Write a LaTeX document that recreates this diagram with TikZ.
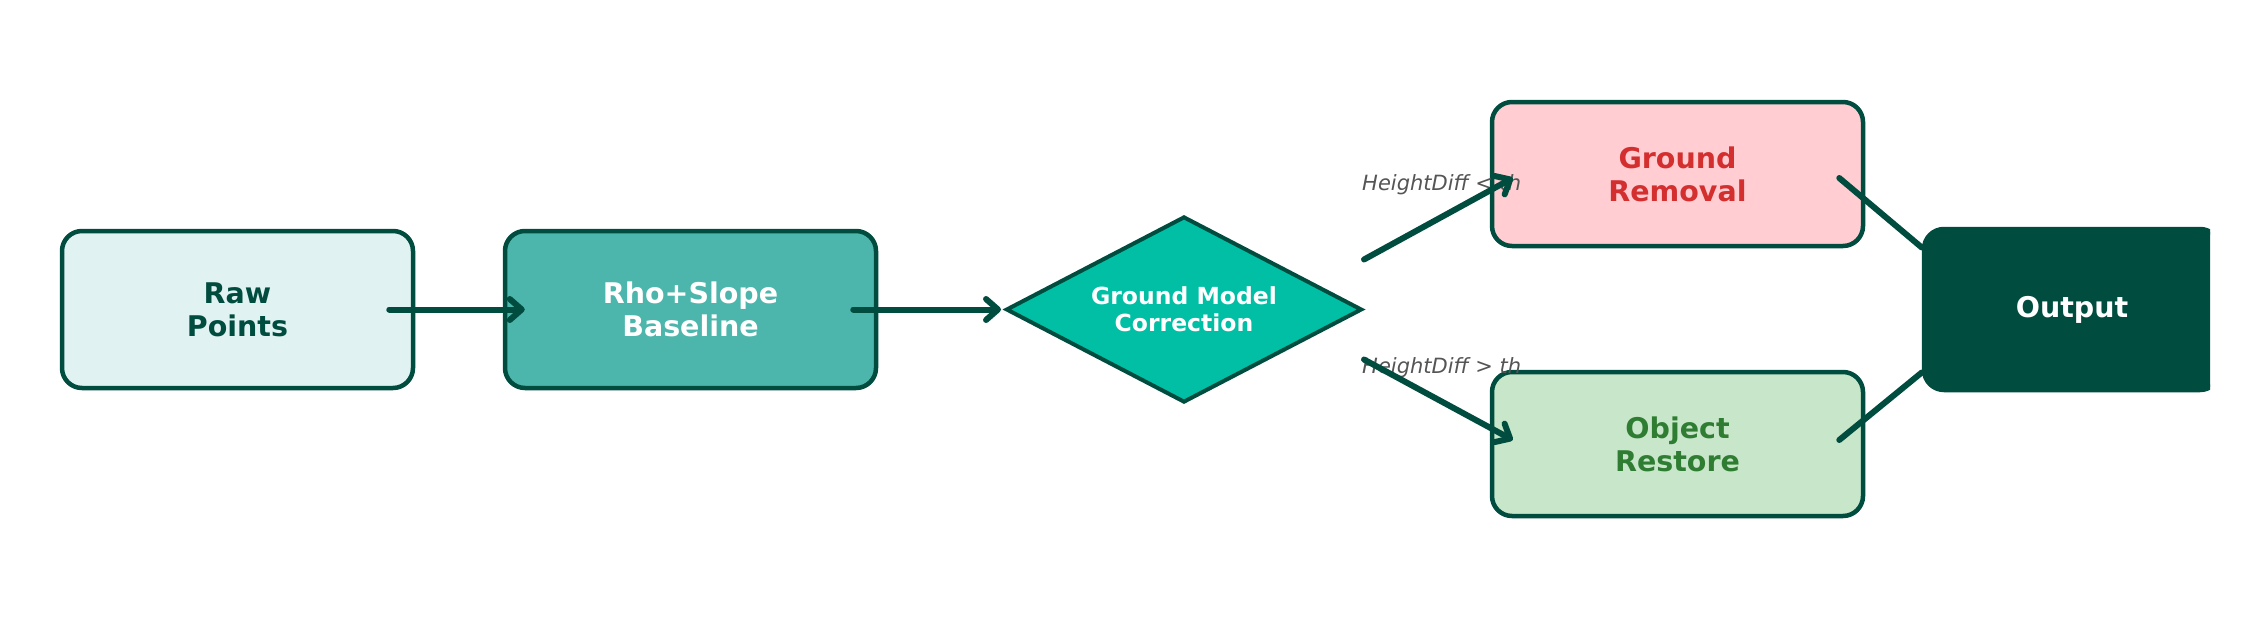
\documentclass[tikz,border=0pt]{standalone}
\usepackage{fontspec}
\setmainfont{DejaVu Sans}
\usetikzlibrary{shapes.geometric,arrows.meta,calc}
\definecolor{dk}{HTML}{004D40}
\definecolor{rawfill}{HTML}{E0F2F1}
\definecolor{rhofill}{HTML}{4DB6AC}
\definecolor{diafill}{HTML}{00BFA5}
\definecolor{grfill}{HTML}{FFCDD2}
\definecolor{grtext}{HTML}{D32F2F}
\definecolor{objfill}{HTML}{C8E6C9}
\definecolor{objtext}{HTML}{2E7D32}
\definecolor{lblgray}{HTML}{555555}
\tikzset{
  box/.style={rectangle, rounded corners=20pt, draw=dk, line width=4.5pt, align=center, inner sep=0pt,
    font=\fontsize{28.5}{33}\selectfont\bfseries},
  dec/.style={diamond, draw=dk, line width=4pt, fill=diafill, text=white, align=center, inner sep=0pt, aspect=1.9,
    font=\fontsize{23.5}{27}\selectfont\bfseries},
  lbl/.style={text=lblgray, font=\fontsize{21}{25}\selectfont\itshape, inner sep=0pt, anchor=base west},
  arr/.style={draw=dk, line width=6pt, line cap=round, -{Straight Barb[length=12pt,width=21pt,round]}},
  link/.style={draw=dk, line width=6pt, line cap=round}
}
\begin{document}
\begin{tikzpicture}[x=1pt,y=-1pt]
\useasboundingbox (0,0) rectangle (2249,619);
\begin{scope}
\clip (0,0) rectangle (2210,619);
\node[box, fill=dk, text=white, minimum width=296pt, minimum height=161pt] (out) at (2072,309.5) {Output};
\end{scope}
\node[box, fill=rawfill, text=dk, minimum width=351pt, minimum height=157pt] (raw) at (237.5,309.5) {Raw\\Points};
\node[box, fill=rhofill, text=white, minimum width=371pt, minimum height=157pt] (rho) at (690.5,309.5) {Rho+Slope\\Baseline};
\node[dec, minimum width=356pt, minimum height=186pt] (dia) at (1184,309.5) {Ground Model\\Correction};
\node[box, fill=grfill, text=grtext, minimum width=371pt, minimum height=144pt] (gr) at (1677.5,174) {Ground\\Removal};
\node[box, fill=objfill, text=objtext, minimum width=371pt, minimum height=144pt] (obj) at (1677.5,444) {Object\\Restore};
\node[lbl] (l1) at (1362,190) {HeightDiff < th};
\node[lbl] (l2) at (1362,373) {HeightDiff > th};
\draw[arr] ($(raw.east)+(-26,0)$) -- ($(rho.west)+(22,0)$);
\draw[arr] ($(rho.east)+(-25,0)$) -- ($(dia.west)+(-3,0)$);
\draw[arr] ($(dia.east)+(0,-50)$) -- ($(gr.west)+(23,4)$);
\draw[arr] ($(dia.east)+(0,50)$) -- ($(obj.west)+(23,-4)$);
\draw[link] ($(gr.east)+(-26,4)$) -- ($(out.west)+(0,-62)$);
\draw[link] ($(obj.east)+(-26,-4)$) -- ($(out.west)+(0,63)$);
\end{tikzpicture}
\end{document}
